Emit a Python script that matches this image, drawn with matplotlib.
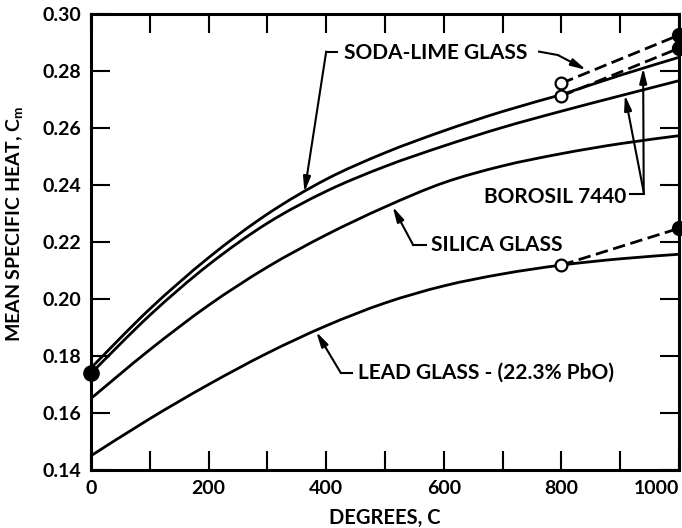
import matplotlib
matplotlib.use("Agg")
import matplotlib.pyplot as plt
from matplotlib.ticker import MultipleLocator, FixedLocator
from matplotlib.path import Path
from matplotlib.patches import PathPatch

plt.rcParams['font.family'] = ['Lato', 'DejaVu Sans']
plt.rcParams['font.weight'] = 'bold'
plt.rcParams['axes.labelweight'] = 'bold'

# ---- data ----
temps = [0, 100, 200, 300, 400, 500, 600, 700, 800, 900, 1000]
soda_lime = [0.1758, 0.1965, 0.2145, 0.2298, 0.2420, 0.2513, 0.2590, 0.2658, 0.2717]  # 0..800
borosil_lower = [0.1739, 0.1943, 0.2120, 0.2266, 0.2378, 0.2465, 0.2537, 0.2602, 0.2659, 0.2713, 0.2766]
borosil_upper_t = [800, 900, 1000]
borosil_upper = [0.2717, 0.2785, 0.2848]
silica = [0.1651, 0.1822, 0.1978, 0.2112, 0.2225, 0.2323, 0.2408, 0.2467, 0.2510, 0.2545, 0.2573]
lead = [0.1450, 0.1580, 0.1700, 0.1810, 0.1906, 0.1986, 0.2046, 0.2088, 0.2119, 0.2141, 0.2157]

ext_t = [800, 1000]
soda_ext_a = [0.2757, 0.2926]
soda_ext_b = [0.2712, 0.2880]
lead_ext = [0.2119, 0.2248]

start_dot = (0, 0.174)

xticks_major = [0, 200, 400, 600, 800, 1000]
yticks = [0.14, 0.16, 0.18, 0.20, 0.22, 0.24, 0.26, 0.28, 0.30]
ytick_labels = ["0.14", "0.16", "0.18", "0.20", "0.22", "0.24", "0.26", "0.28", "0.30"]

fig = plt.figure(figsize=(6.82, 5.28), dpi=100)
ax = fig.add_axes([91/682, 1-470/528, (679-91)/682, (470-14)/528])

LW = 2.0


def smooth_curve(xs, ys, **kw):
    """Draw a smooth curve through the data points (Catmull-Rom as Bezier)."""
    pts = list(zip(xs, ys))
    verts = [pts[0]]
    codes = [Path.MOVETO]
    n = len(pts)
    for i in range(n - 1):
        p0 = pts[i - 1] if i > 0 else pts[i]
        p1 = pts[i]
        p2 = pts[i + 1]
        p3 = pts[i + 2] if i + 2 < n else pts[i + 1]
        c1 = (p1[0] + (p2[0] - p0[0]) / 6, p1[1] + (p2[1] - p0[1]) / 6)
        c2 = (p2[0] - (p3[0] - p1[0]) / 6, p2[1] - (p3[1] - p1[1]) / 6)
        verts += [c1, c2, p2]
        codes += [Path.CURVE4] * 3
    ax.add_patch(PathPatch(Path(verts, codes), fill=False, **kw))


style = dict(edgecolor='black', lw=LW, capstyle='round', joinstyle='round')
smooth_curve(temps[:len(soda_lime)], soda_lime, **style)
smooth_curve(temps, borosil_lower, **style)
smooth_curve(borosil_upper_t, borosil_upper, **style)
smooth_curve(temps, silica, **style)
smooth_curve(temps, lead, **style)

for ys in (soda_ext_a, soda_ext_b, lead_ext):
    ax.plot(ext_t, ys, color='black', lw=LW, dashes=(4.5, 2.0))
    ax.plot([ext_t[1]], [ys[1]], 'o', color='black', ms=10, clip_on=False, zorder=5)
    ax.plot([ext_t[0]], [ys[0]], 'o', mfc='white', mec='black', mew=1.6, ms=8.5, zorder=6)

ax.plot([start_dot[0]], [start_dot[1]], 'o', color='black', ms=11, clip_on=False, zorder=5)

ax.set_xlim(0, 1000)
ax.set_ylim(0.14, 0.30)

ax.xaxis.set_major_locator(FixedLocator(xticks_major))
ax.xaxis.set_minor_locator(MultipleLocator(100))
ax.set_yticks(yticks)
ax.set_yticklabels(ytick_labels)
ax.tick_params(which='both', direction='in', top=True, right=True, length=14, width=1.5)
ax.tick_params(axis='both', labelsize=14, pad=7)
for sp in ax.spines.values():
    sp.set_linewidth(2.2)
labs = ax.get_xticklabels()
labs[-1].set_ha('right')

ax.set_xlabel("DEGREES, C", fontsize=14.5, labelpad=8)
ax.set_ylabel(r"MEAN SPECIFIC HEAT, C$_\mathregular{m}$", fontsize=14)
ax.yaxis.set_label_coords(-0.11, 0.54)

arrow = dict(arrowstyle='-|>,head_length=0.9,head_width=0.22', color='black', lw=1.5,
             shrinkA=0, shrinkB=0)
TFS = 15


def connector(pts, tip):
    xs = [p[0] for p in pts]
    ys = [p[1] for p in pts]
    ax.plot(xs, ys, color='black', lw=1.5)
    ax.annotate('', xy=tip, xytext=pts[-1], arrowprops=arrow)


ax.text(430, 0.2863, "SODA-LIME GLASS", fontsize=TFS, ha='left', va='center')
connector([(419, 0.2868), (400, 0.2868)], (363, 0.2375))
connector([(762, 0.2868), (794, 0.2856)], (842, 0.2804))

ax.text(668, 0.2359, "BOROSIL 7440", fontsize=TFS, ha='left', va='center')
connector([(916, 0.2370), (940, 0.2370)], (939, 0.2811))
connector([(940, 0.2375)], (908, 0.2716))

ax.text(578, 0.2189, "SILICA GLASS", fontsize=TFS, ha='left', va='center')
connector([(570, 0.2189), (548, 0.2189)], (513, 0.2324))

ax.text(454, 0.1740, "LEAD GLASS - (22.3% PbO)", fontsize=TFS, ha='left', va='center')
connector([(444, 0.1740), (425, 0.1740)], (383, 0.1885))

fig.savefig("out.png", dpi=100)
